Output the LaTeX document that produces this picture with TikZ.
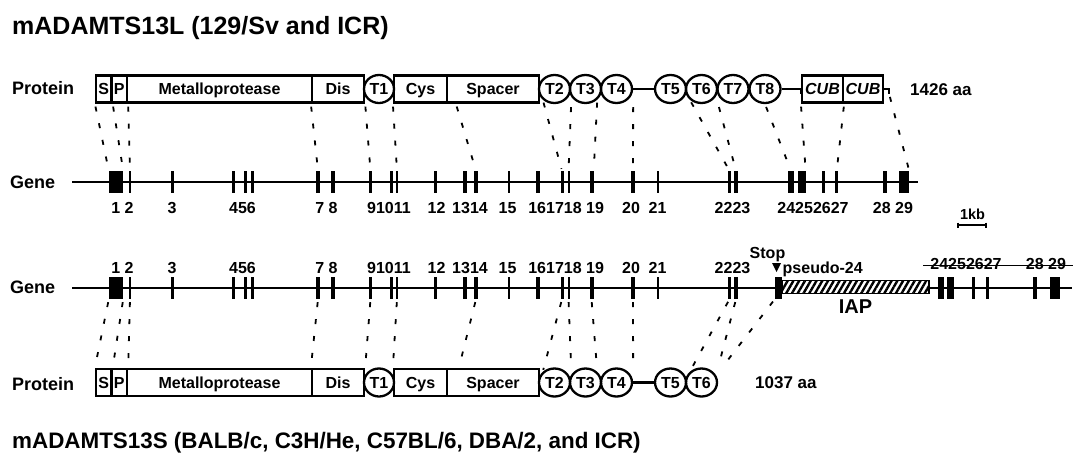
\documentclass[tikz,border=0pt]{standalone}
\usepackage{fontspec}
\setmainfont{Liberation Sans}
\usetikzlibrary{shapes.geometric,calc,patterns.meta}
\tikzset{
  x=1pt, y=-1pt,
  dom/.style={draw, line width=2.3pt, rectangle, minimum height=27pt, inner sep=0pt,
    font=\fontsize{16}{16}\bfseries\selectfont, text height=11.5pt, text depth=0pt},
  tdom/.style={draw, line width=2.3pt, ellipse, minimum width=31pt, minimum height=28pt, inner sep=0pt,
    font=\fontsize{16}{16}\bfseries\selectfont, text height=11.5pt, text depth=0pt},
  exon/.style={fill=black, draw=none, rectangle, minimum height=22pt, inner sep=0pt},
  conn/.style={line width=1.8pt, dash pattern=on 5pt off 12pt, shorten <=3pt, shorten >=2pt},
  gline/.style={line width=2.4pt},
  pline/.style={line width=2.3pt},
  num/.style={inner sep=0pt, font=\fontsize{16}{16}\bfseries\selectfont, text height=11.5pt, text depth=0pt},
  lab/.style={inner sep=0pt, anchor=west, font=\fontsize{18}{18}\bfseries\selectfont, text height=13pt, text depth=0pt},
  ttl/.style={inner sep=0pt, anchor=west, font=\fontsize{25}{25}\bfseries\selectfont, text height=17.5pt, text depth=0pt},
  aa/.style={inner sep=0pt, anchor=west, font=\fontsize{17}{17}\bfseries\selectfont, text height=12.2pt, text depth=0pt},
}
\begin{document}
\begin{tikzpicture}
\useasboundingbox (0,0) rectangle (1075,455);
\fill[white] (0,0) rectangle (1075,455);

% titles
\node[ttl] (title1) at (12,25.5) {mADAMTS13L (129/Sv and ICR)};
\node[ttl, font=\fontsize{22.4}{22.4}\bfseries\selectfont, text height=16pt] (title2) at (12,440) {mADAMTS13S (BALB/c, C3H/He, C57BL/6, DBA/2, and ICR)};

% left labels
\node[lab] (prot1) at (12,87.5) {Protein};
\node[lab] (gene1) at (10,181.5) {Gene};
\node[lab] (gene2) at (10,286.7) {Gene};
\node[lab] (prot2) at (12,384) {Protein};

% ---------- protein row 1 ----------
\node[dom, minimum width=15.5pt] (s1) at (103.75,89) {S};
\node[dom, minimum width=15.5pt] (p1) at (119.25,89) {P};
\node[dom, minimum width=185pt] (met1) at (219.5,89) {Metalloprotease};
\node[dom, minimum width=52pt] (dis1) at (338,89) {Dis};
\node[tdom, minimum width=30pt] (t1a) at (379,89) {T1};
\node[dom, minimum width=53pt] (cys1) at (420.5,89) {Cys};
\node[dom, minimum width=92pt] (spacer1) at (493,89) {Spacer};
\node[tdom] (t2a) at (554.5,89) {T2};
\node[tdom] (t3a) at (585.5,89) {T3};
\node[tdom] (t4a) at (616.5,89) {T4};
\node[tdom] (t5a) at (670.5,89) {T5};
\node[tdom] (t6a) at (701.5,89) {T6};
\node[tdom] (t7a) at (733,89) {T7};
\node[tdom] (t8a) at (765,89) {T8};
\node[dom, minimum width=41pt] (cub1a) at (822.5,89) {\itshape CUB};
\node[dom, minimum width=40pt] (cub2a) at (863,89) {\itshape CUB};
\draw[pline] (t4a.east) -- (t5a.west);
\draw[pline] (t8a.east) -- ++(19,0) -- ++(0,5);
\draw[pline] (cub2a.east) -- ++(5,0) -- ++(0,5) coordinate (cubend);
\node[aa] (len1) at (910,89) {1426 aa};

% ---------- gene row 1 ----------
\coordinate (g1a) at (72,182);
\coordinate (g1b) at (918,182);
\draw[gline] (g1a) -- (g1b);
\foreach \n/\x/\w in {1/116/14pt, 2/130/2.5pt, 3/172/3pt, 4/233/3pt, 5/245/3pt, 6/252/3pt,
  7/318/4pt, 8/333/4pt, 9/370.5/3pt, 10/391.5/3.5pt, 11/397/2pt, 12/435/3pt, 13/464.5/4pt,
  14/476/4pt, 15/508.5/2pt, 16/537.5/4pt, 17/562/3pt, 18/568.5/2pt, 19/591.5/4pt, 20/633/4pt,
  21/657.5/2pt, 22/729.5/3pt, 23/736/4pt}{
  \node[exon, minimum width=\w] (a\n) at (\x,182) {};
}
\foreach \n/\x/\w in {24/791/6pt, 25/801.5/8pt, 26/823.3/3pt, 27/836.7/3pt, 28/885/4pt, 29/904/10pt}{
  \node[exon, minimum width=\w] (a\n) at (\x,182) {};
}

% numbers row 1 and row 2
\foreach \t/\x [count=\i] in {1 2/122.5, 3/172, 456/242.5, 7 8/326.5, 91011/389, 12/436.5, 1314/470,
  15/507.5, 161718/555, 19/595, 20/631, 21/657.5, 2223/732.5}{
  \node[num] (na\i) at (\x,207.5) {\t};
  \node[num] (nb\i) at (\x,267.5) {\t};
}
\node[num] (na14) at (813,207.5) {24252627};
\node[num] (na15) at (893,207.5) {28 29};

% scale bar
\coordinate (kb1) at (958,225);
\coordinate (kb2) at (986,225);
\draw[line width=1.7pt] (kb1) -- (kb2);
\draw[line width=1.4pt] ([yshift=2.5pt]kb1) -- ([yshift=-2.5pt]kb1);
\draw[line width=1.4pt] ([yshift=2.5pt]kb2) -- ([yshift=-2.5pt]kb2);
\node[num, font=\fontsize{14.5}{14.5}\bfseries\selectfont, text height=10.4pt] (kb) at (972.5,214) {1kb};

% ---------- gene row 2 ----------
\coordinate (g2a) at (72,288);
\coordinate (g2b) at (1072,288);
\draw[gline] (g2a) -- (g2b);
\foreach \n/\x/\w in {1/116/14pt, 2/130/2.5pt, 3/172/3pt, 4/233/3pt, 5/245/3pt, 6/252/3pt,
  7/318/4pt, 8/333/4pt, 9/370.5/3pt, 10/391.5/3.5pt, 11/397/2pt, 12/435/3pt, 13/464.5/4pt,
  14/476/4pt, 15/508.5/2pt, 16/537.5/4pt, 17/562/3pt, 18/568.5/2pt, 19/591.5/4pt, 20/633/4pt,
  21/657.5/2pt, 22/729.5/3pt, 23/736/4pt}{
  \node[exon, minimum width=\w] (b\n) at (\x,288) {};
}
\node[exon, minimum width=7pt] (p24) at (778.5,288) {};
\node[draw, line width=1.4pt, rectangle, inner sep=0pt, minimum width=147pt, minimum height=13pt,
  preaction={fill=white}, pattern={Lines[angle=60,distance=5pt,line width=2.4pt]}] (iap) at (855.5,287) {};
\foreach \n/\x/\w in {24/941/6pt, 25/950.5/7pt, 26/973.5/3.3pt, 27/987.5/3.3pt, 28/1035/3.5pt, 29/1055/10pt}{
  \node[exon, minimum width=\w] (b\n) at (\x,288) {};
}
\node[num, font=\fontsize{20}{20}\bfseries\selectfont, text height=14.3pt] (iaplab) at (855.5,306.5) {IAP};
\node[num] (stop) at (767.5,253) {Stop};
\fill (772,263) -- (781,263) -- (776.5,272) -- cycle;
\node[num, anchor=west] (pseudo) at (782.5,267.5) {pseudo-24};
\node[num] (old1) at (966,263.5) {24252627};
\node[num] (old2) at (1046,263.5) {28 29};
\coordinate (st1) at (923,265.5);
\coordinate (st2) at (1073,265.5);
\draw[line width=1.5pt] (st1) -- (st2);

% ---------- protein row 2 ----------
\node[dom, minimum width=15.5pt] (s2) at (103.75,382.5) {S};
\node[dom, minimum width=15.5pt] (p2) at (119.25,382.5) {P};
\node[dom, minimum width=185pt] (met2) at (219.5,382.5) {Metalloprotease};
\node[dom, minimum width=52pt] (dis2) at (338,382.5) {Dis};
\node[tdom, minimum width=30pt] (t1b) at (379,382.5) {T1};
\node[dom, minimum width=53pt] (cys2) at (420.5,382.5) {Cys};
\node[dom, minimum width=92pt] (spacer2) at (493,382.5) {Spacer};
\node[tdom] (t2b) at (554.5,382.5) {T2};
\node[tdom] (t3b) at (585.5,382.5) {T3};
\node[tdom] (t4b) at (616.5,382.5) {T4};
\node[tdom] (t5b) at (670.5,382.5) {T5};
\node[tdom] (t6b) at (701.5,382.5) {T6};
\draw[pline] (t4b.east) -- (t5b.west);
\node[aa] (len2) at (755,382) {1037 aa};

% ---------- connectors row 1 ----------
\draw[conn] (s1.south west) -- (a1.north west);
\draw[conn] (s1.south east) -- (a1.north east);
\draw[conn] (p1.south east) -- (a2.north);
\draw[conn] (dis1.south west) -- (a7.north);
\draw[conn] (dis1.south east) -- (a9.north);
\draw[conn] (cys1.south west) -- (a11.north);
\draw[conn] ($(spacer1.south west)+(10,0)$) -- (a14.north);
\draw[conn] (t2a.south west) -- (a17.north);
\draw[conn] (t2a.east |- t2a.south) -- (a18.north);
\draw[conn] (t3a.south east) -- (a19.north east);
\draw[conn] (t4a.east |- t4a.south) -- (a20.north);
\draw[conn] (t6a.south west) -- (a22.north);
\draw[conn] (t6a.east |- t6a.south) -- (a23.north);
\draw[conn] (t8a.south) -- (a24.north);
\draw[conn] (cub1a.south west) -- (a25.north east);
\draw[conn] (cub1a.south east) -- (a27.north);
\draw[conn] (cubend) -- (a29.north east);

% ---------- connectors row 2 ----------
\draw[conn] (b1.south west) -- (s2.north west);
\draw[conn] (b1.south east) -- (s2.north east);
\draw[conn] (b2.south) -- (p2.north east);
\draw[conn] (b7.south) -- (dis2.north west);
\draw[conn] (b9.south) -- (dis2.north east);
\draw[conn] (b11.south) -- (cys2.north west);
\draw[conn] (b14.south) -- ($(spacer2.north west)+(13,0)$);
\draw[conn] (b17.south) -- (t2b.north west);
\draw[conn] (b18.south) -- (t2b.east |- t2b.north);
\draw[conn] (b19.south) -- (t3b.north east);
\draw[conn] (b20.south) -- (t4b.east |- t4b.north);
\draw[conn] (b22.south) -- (t6b.north west);
\draw[conn] (b23.south) -- (t6b.east |- t6b.north);
\draw[conn] (p24.south west) -- ($(t6b.east |- t6b.north)+(4,0)$);
\end{tikzpicture}
\end{document}
